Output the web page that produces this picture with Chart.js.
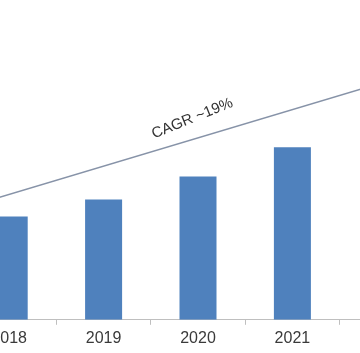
<!DOCTYPE html>
<html>
<head>
<meta charset="utf-8">
<script src="https://cdn.jsdelivr.net/npm/chart.js@4.4.0/dist/chart.umd.min.js"></script>
<style>
  html, body { margin: 0; padding: 0; background: #ffffff; }
  body { width: 360px; height: 353px; overflow: hidden; position: relative; }
  #wrap { position: absolute; left: -38px; top: 0; width: 472px; height: 352px; }
</style>
</head>
<body>
<div id="wrap"><canvas id="c" width="472" height="352"></canvas></div>
<script>
// Data (2022 bar lies outside the visible crop, estimated)
const years = ['2018', '2019', '2020', '2021', '2022'];
const marketValues = [10.3, 12.0, 14.3, 17.2, 20.5];
// CAGR trend line endpoints (category index, value)
const trendX = [-0.5, 4.5];
const trendY = [11.1, 25.2];
const cagrLabel = 'CAGR ~19%';

const trendPoints = trendX.map((x, i) => ({ x: x, y: trendY[i] }));

const cagrText = {
  id: 'cagrText',
  afterDatasetsDraw(chart) {
    const ctx = chart.ctx;
    const xs = chart.scales.x2, ys = chart.scales.y;
    const t = 1.94;
    const f = (t - trendX[0]) / (trendX[1] - trendX[0]);
    const v = trendY[0] + f * (trendY[1] - trendY[0]);
    const px = xs.getPixelForValue(t);
    const py = ys.getPixelForValue(v) - 21;
    ctx.save();
    ctx.translate(px, py);
    ctx.rotate(-22 * Math.PI / 180);
    ctx.font = '15px "Liberation Sans", Arial, sans-serif';
    ctx.fillStyle = '#333333';
    ctx.textAlign = 'center';
    ctx.textBaseline = 'middle';
    ctx.fillText(cagrLabel, 0, 0);
    ctx.restore();
  }
};

new Chart(document.getElementById('c'), {
  type: 'bar',
  data: {
    labels: years,
    datasets: [
      {
        type: 'bar',
        data: marketValues,
        backgroundColor: '#4f81bd',
        borderWidth: 0,
        grouped: false,
        categoryPercentage: 1.0,
        barPercentage: 0.392,
        xAxisID: 'x',
        yAxisID: 'y',
        order: 2
      },
      {
        type: 'line',
        data: trendPoints,
        xAxisID: 'x2',
        yAxisID: 'y',
        borderColor: '#8793a8',
        borderWidth: 1.5,
        pointRadius: 0,
        fill: false,
        tension: 0,
        order: 1
      }
    ]
  },
  options: {
    responsive: false,
    animation: false,
    devicePixelRatio: 1,
    layout: { padding: 0 },
    plugins: { legend: { display: false }, tooltip: { enabled: false } },
    scales: {
      x: {
        type: 'category',
        offset: true,
        border: { display: true, color: '#bfbfbf', width: 1 },
        grid: { display: true, drawOnChartArea: false, drawTicks: true, tickLength: 5, color: '#bfbfbf', offset: true },
        ticks: {
          color: '#3a3a3a',
          padding: 4,
          maxRotation: 0,
          autoSkip: false,
          font: { family: '"Liberation Sans", Arial, sans-serif', size: 16 }
        }
      },
      x2: {
        type: 'linear',
        display: false,
        offset: false,
        grid: { offset: false },
        min: -0.5,
        max: 4.5
      },
      y: {
        display: false,
        min: 0,
        max: 31.9
      }
    }
  },
  plugins: [cagrText]
});
</script>
</body>
</html>
